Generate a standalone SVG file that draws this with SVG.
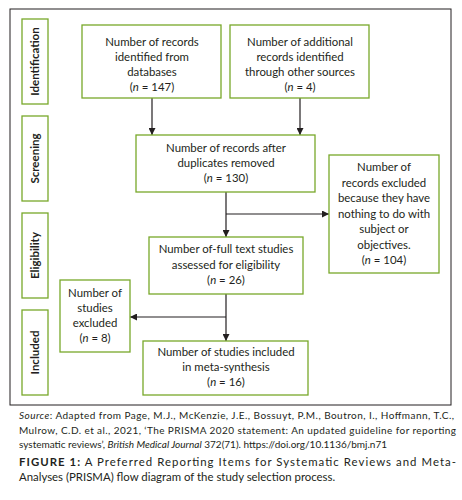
<svg xmlns="http://www.w3.org/2000/svg" width="462" height="500" viewBox="0 0 462 500">
<style>
.box{fill:#fff;stroke:#78a82a;stroke-width:1.3}
.t{font-family:Lato,"Open Sans",sans-serif;font-size:11.4px;fill:#231f20;text-anchor:middle}
.st{font-family:Lato,"Open Sans",sans-serif;font-size:11.5px;font-weight:bold;fill:#231f20;text-anchor:middle}
.c{font-family:Lato,"Open Sans",sans-serif;font-size:10px;fill:#231f20}
.f{font-family:Lato,"Open Sans",sans-serif;font-size:11.4px;fill:#231f20}
.ln{fill:none;stroke:#231f20;stroke-width:1.2}
</style>
<defs>
<marker id="ah" viewBox="0 0 10 10" refX="10" refY="5" markerWidth="7" markerHeight="7" markerUnits="userSpaceOnUse" orient="auto">
<path d="M0,0 L10,5 L0,10 z" fill="#231f20"/>
</marker>
</defs>
<rect x="10" y="9" width="441" height="396" fill="#fff" stroke="#231f20" stroke-width="1"/>
<g id="stages">
<rect class="box" x="22" y="19" width="26" height="85"/>
<text class="st" transform="translate(39,61.5) rotate(-90)">Identification</text>
<rect class="box" x="22" y="116" width="26" height="85"/>
<text class="st" transform="translate(39,158.5) rotate(-90)">Screening</text>
<rect class="box" x="22" y="213" width="26" height="85"/>
<text class="st" transform="translate(39,255.5) rotate(-90)">Eligibility</text>
<rect class="box" x="22" y="310" width="26" height="85"/>
<text class="st" transform="translate(39,352.5) rotate(-90)">Included</text>
</g>
<g id="connectors">
<path class="ln" d="M152,98 V135" marker-end="url(#ah)"/>
<path class="ln" d="M300,98 V135" marker-end="url(#ah)"/>
<path class="ln" d="M226,192 V237" marker-end="url(#ah)"/>
<path class="ln" d="M226,214 H329" marker-end="url(#ah)"/>
<path class="ln" d="M226,294 V341" marker-end="url(#ah)"/>
<path class="ln" d="M226,317 H130" marker-end="url(#ah)"/>
</g>
<g id="n1">
<rect class="box" x="82" y="25" width="139" height="73"/>
<text class="t" x="152" y="46">Number of records</text>
<text class="t" x="152" y="61">identified from</text>
<text class="t" x="152" y="76">databases</text>
<text class="t" x="152" y="91">(<tspan font-style="italic">n</tspan> = 147)</text>
</g>
<g id="n2">
<rect class="box" x="230" y="25" width="139" height="73"/>
<text class="t" x="300" y="46">Number of additional</text>
<text class="t" x="300" y="61">records identified</text>
<text class="t" x="300" y="76">through other sources</text>
<text class="t" x="300" y="91">(<tspan font-style="italic">n</tspan> = 4)</text>
</g>
<g id="n3">
<rect class="box" x="136" y="135" width="179" height="57"/>
<text class="t" x="226" y="152">Number of records after</text>
<text class="t" x="226" y="167">duplicates removed</text>
<text class="t" x="226" y="182">(<tspan font-style="italic">n</tspan> = 130)</text>
</g>
<g id="n4">
<rect class="box" x="329" y="155" width="110" height="118"/>
<text class="t" x="384" y="171">Number of</text>
<text class="t" x="384" y="186.5">records excluded</text>
<text class="t" x="384" y="202">because they have</text>
<text class="t" x="384" y="217.5">nothing to do with</text>
<text class="t" x="384" y="233">subject or</text>
<text class="t" x="384" y="248.5">objectives.</text>
<text class="t" x="384" y="264">(<tspan font-style="italic">n</tspan> = 104)</text>
</g>
<g id="n5">
<rect class="box" x="149" y="237" width="154" height="57"/>
<text class="t" x="226" y="253">Number of-full text studies</text>
<text class="t" x="226" y="268.5">assessed for eligibility</text>
<text class="t" x="226" y="284">(<tspan font-style="italic">n</tspan> = 26)</text>
</g>
<g id="n6">
<rect class="box" x="60" y="280" width="70" height="72"/>
<text class="t" x="95" y="297">Number of</text>
<text class="t" x="95" y="312">studies</text>
<text class="t" x="95" y="327">excluded</text>
<text class="t" x="95" y="342">(<tspan font-style="italic">n</tspan> = 8)</text>
</g>
<g id="n7">
<rect class="box" x="143" y="341" width="165" height="54"/>
<text class="t" x="226" y="356">Number of studies included</text>
<text class="t" x="226" y="371">in meta-synthesis</text>
<text class="t" x="226" y="386">(<tspan font-style="italic">n</tspan> = 16)</text>
</g>
<g id="caption">
<text class="c" x="19" y="419" textLength="435" lengthAdjust="spacing"><tspan font-style="italic">Source</tspan>: Adapted from Page, M.J., McKenzie, J.E., Bossuyt, P.M., Boutron, I., Hoffmann, T.C.,</text>
<text class="c" x="19" y="433.5" textLength="437" lengthAdjust="spacing">Mulrow, C.D. et al., 2021, ‘The PRISMA 2020 statement: An updated guideline for reporting</text>
<text class="c" x="19" y="448">systematic reviews’, <tspan font-style="italic">British Medical Journal</tspan> 372(71). https://doi.org/10.1136/bmj.n71</text>
<text class="f" x="19" y="466" textLength="437" lengthAdjust="spacing"><tspan font-weight="bold">FIGURE 1:</tspan> A Preferred Reporting Items for Systematic Reviews and Meta-</text>
<text class="f" x="19" y="481">Analyses (PRISMA) flow diagram of the study selection process.</text>
</g>
</svg>
